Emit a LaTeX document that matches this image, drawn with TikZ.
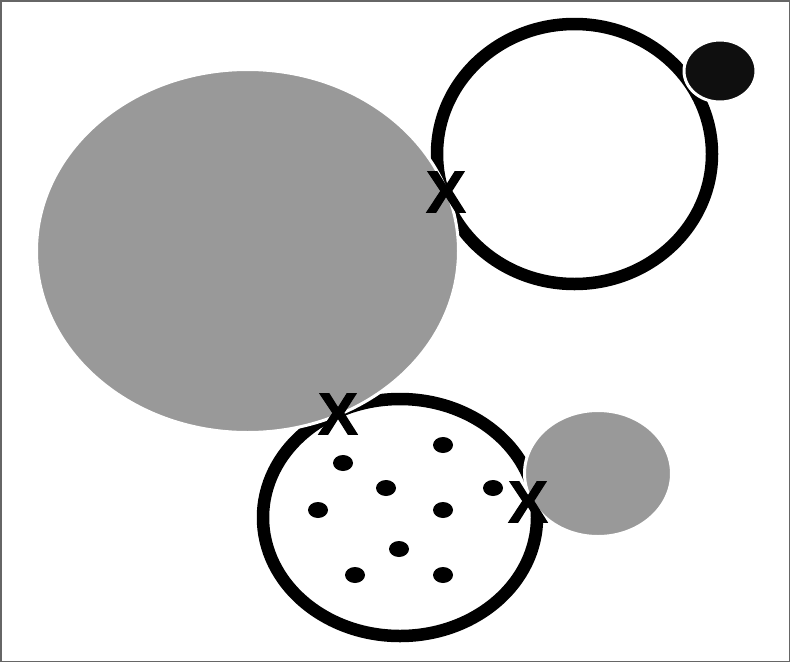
\documentclass[tikz,border=0pt]{standalone}
\usepackage{fontspec}
\setmainfont{Liberation Sans}[BoldFont={Liberation Sans Bold}]
\newfontfamily\crossfont{Liberation Sans Bold}[FakeBold=2]
\usepackage{tikz}
\definecolor{blobgray}{gray}{0.6}
\definecolor{dotblack}{gray}{0.06}
\tikzset{
	ring/.style={line width=12.5pt, color=black},
	blob/.style={fill=blobgray, draw=white, line width=3pt},
	cross/.style={font=\crossfont\fontsize{59}{59}\selectfont, inner sep=0pt}
}

\begin{document}
\begin{tikzpicture}[x=1pt, y=-1pt]
			%%%%% START %%%%%
			
			\useasboundingbox (0, 0) rectangle (790, 662);
			\draw[line width=1.5pt, color=black!60] (0.75, 0.75) rectangle (789.25, 661.25);
			
			\draw[ring] (574.5, 154) ellipse (137.5 and 130);
			\draw[ring] (400, 517.5) ellipse (137 and 118.5);
			
			\draw[blob] (247.5, 251) ellipse (211 and 181.5);
			\draw[blob] (598, 473.5) ellipse (73.5 and 63);
			\draw[fill=dotblack, draw=white, line width=3pt] (720, 71) ellipse (36 and 31);
			
			\fill (343, 463) ellipse (10 and 8);
			\fill (443, 445) ellipse (10 and 8);
			\fill (386, 488) ellipse (10 and 8);
			\fill (493, 488) ellipse (10 and 8);
			\fill (318, 510) ellipse (10 and 8);
			\fill (443, 510) ellipse (10 and 8);
			\fill (399, 549) ellipse (10 and 8);
			\fill (355, 575) ellipse (10 and 8);
			\fill (443, 575) ellipse (10 and 8);
			
			\node[cross] (xtop) at (446, 192) {X};
			\node[cross] (xleft) at (338, 414) {X};
			\node[cross] (xright) at (528, 502) {X};
			
			%%%%% END %%%%%
\end{tikzpicture}
\end{document}
